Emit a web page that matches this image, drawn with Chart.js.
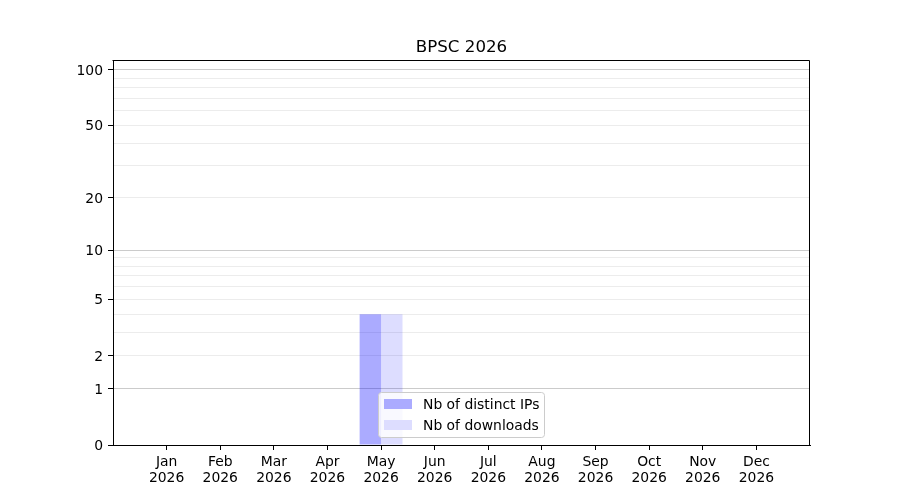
<!DOCTYPE html>
<html>
<head>
<meta charset="utf-8">
<script src="https://cdn.jsdelivr.net/npm/chart.js@4/dist/chart.umd.min.js"></script>
<style>
  html, body { margin: 0; padding: 0; background: #ffffff; }
  #wrap { width: 900px; height: 500px; }
</style>
</head>
<body>
<div id="wrap"><canvas id="c" width="900" height="500"></canvas></div>
<script>
// ---- data ----
const chartTitle = 'BPSC 2026';
const months = ['Jan', 'Feb', 'Mar', 'Apr', 'May', 'Jun', 'Jul', 'Aug', 'Sep', 'Oct', 'Nov', 'Dec'];
const yearLabel = '2026';
const distinctIPs = [0, 0, 0, 0, 4, 0, 0, 0, 0, 0, 0, 0];
const downloads = [0, 0, 0, 0, 4, 0, 0, 0, 0, 0, 0, 0];
const seriesLabels = ['Nb of distinct IPs', 'Nb of downloads'];
const yTickValues = [0, 1, 2, 3, 4, 5, 6, 7, 8, 9, 10, 20, 30, 40, 50, 60, 70, 80, 90, 100];
const yLabelled = [0, 1, 2, 5, 10, 20, 50, 100];
const yMajorGrid = [1, 10, 100];
const yMax = 113;

// ---- log(1+x) scale ----
class Log1pScale extends Chart.LinearScale {
  determineDataLimits() {
    this.min = this.options.min;
    this.max = this.options.max;
  }
  buildTicks() {
    return yTickValues.map(v => ({ value: v }));
  }
  configure() {
    super.configure();
    this._tMin = Math.log10(1 + this.min);
    this._tMax = Math.log10(1 + this.max);
  }
  getPixelForValue(v) {
    return this.getPixelForDecimal((Math.log10(1 + v) - this._tMin) / (this._tMax - this._tMin));
  }
  getValueForPixel(p) {
    const t = this._tMin + this.getDecimalForPixel(p) * (this._tMax - this._tMin);
    return Math.pow(10, t) - 1;
  }
}
Log1pScale.id = 'log1p';
Log1pScale.defaults = Chart.LinearScale.defaults;
Chart.register(Log1pScale);

const FONT = 'DejaVu Sans';

const framePlugin = {
  id: 'frame',
  afterDatasetsDraw(chart) {
    const { ctx, chartArea: a } = chart;
    ctx.save();
    ctx.strokeStyle = '#000';
    ctx.lineWidth = 1;
    ctx.beginPath();
    ctx.moveTo(Math.round(a.left) - 0.5, Math.round(a.top) + 0.5);
    ctx.lineTo(Math.round(a.right) - 0.5, Math.round(a.top) + 0.5);
    ctx.lineTo(Math.round(a.right) - 0.5, Math.round(a.bottom) + 0.5);
    ctx.stroke();
    ctx.restore();
  }
};

const legendPlugin = {
  id: 'mplLegend',
  afterDraw(chart) {
    const ctx = chart.ctx;
    const x0 = 378.5, y0 = 392.5, w = 166, h = 45, r = 3;
    ctx.save();
    ctx.beginPath();
    ctx.moveTo(x0 + r, y0);
    ctx.lineTo(x0 + w - r, y0);
    ctx.arcTo(x0 + w, y0, x0 + w, y0 + r, r);
    ctx.lineTo(x0 + w, y0 + h - r);
    ctx.arcTo(x0 + w, y0 + h, x0 + w - r, y0 + h, r);
    ctx.lineTo(x0 + r, y0 + h);
    ctx.arcTo(x0, y0 + h, x0, y0 + h - r, r);
    ctx.lineTo(x0, y0 + r);
    ctx.arcTo(x0, y0, x0 + r, y0, r);
    ctx.closePath();
    ctx.fillStyle = 'rgba(255,255,255,0.8)';
    ctx.fill();
    ctx.strokeStyle = '#cccccc';
    ctx.lineWidth = 1;
    ctx.stroke();
    ctx.font = '13.9px "' + FONT + '"';
    ctx.textBaseline = 'middle';
    ctx.textAlign = 'left';
    chart.data.datasets.forEach((ds, i) => {
      const ry = 399 + i * 21;
      ctx.fillStyle = '#ffffff';
      ctx.fillRect(384, ry, 28, 10);
      ctx.fillStyle = ds.backgroundColor;
      ctx.fillRect(384, ry, 28, 10);
      ctx.fillStyle = '#000';
      ctx.fillText(ds.label, 423, ry + 6);
    });
    ctx.restore();
  }
};

new Chart(document.getElementById('c'), {
  type: 'bar',
  data: {
    datasets: [
      {
        label: seriesLabels[0],
        data: distinctIPs.map((v, i) => ({ x: i, y: v })),
        backgroundColor: 'rgba(0,0,255,0.33)',
        borderWidth: 0
      },
      {
        label: seriesLabels[1],
        data: downloads.map((v, i) => ({ x: i, y: v })),
        backgroundColor: 'rgba(0,0,255,0.135)',
        borderWidth: 0
      }
    ]
  },
  options: {
    responsive: false,
    animation: false,
    devicePixelRatio: 1,
    categoryPercentage: 0.8,
    barPercentage: 1.0,
    layout: { padding: { left: 0, right: 90, top: 0, bottom: 0 } },
    plugins: {
      legend: { display: false },
      tooltip: { enabled: false },
      title: {
        display: true,
        text: chartTitle,
        fullSize: false,
        color: '#000',
        font: { family: FONT, size: 16.67, weight: 'normal', lineHeight: 1.2 },
        padding: { top: 38, bottom: 2 }
      }
    },
    scales: {
      x: {
        type: 'linear',
        min: -1,
        max: 12,
        offset: false,
        afterBuildTicks(scale) {
          scale.ticks = months.map((m, i) => ({ value: i }));
        },
        afterFit(scale) { scale.height = 55; },
        ticks: {
          autoSkip: false,
          maxRotation: 0,
          padding: 4,
          color: '#000',
          font: { family: FONT, size: 13.9, lineHeight: 1.15 },
          callback: (v) => [months[v], yearLabel]
        },
        grid: {
          offset: false,
          drawOnChartArea: false,
          drawTicks: true,
          tickLength: 5,
          tickColor: '#000'
        },
        border: { display: true, color: '#000', width: 1 }
      },
      y: {
        type: 'log1p',
        min: 0,
        max: yMax,
        afterFit(scale) { scale.width = 113; },
        ticks: {
          autoSkip: false,
          padding: 5,
          labelOffset: 1.5,
          color: '#000',
          font: { family: FONT, size: 13.9 },
          callback: (v) => (yLabelled.includes(v) ? String(v) : '')
        },
        grid: {
          drawTicks: true,
          tickLength: 5,
          color: (c) => {
            const v = c.tick ? c.tick.value : null;
            if (v === 0) return 'rgba(0,0,0,0)';
            return yMajorGrid.includes(v) ? '#cbcbcb' : '#ececec';
          },
          tickColor: (c) => {
            const v = c.tick ? c.tick.value : null;
            return yLabelled.includes(v) ? '#000' : 'rgba(0,0,0,0)';
          }
        },
        border: { display: true, color: '#000', width: 1 }
      }
    }
  },
  plugins: [framePlugin, legendPlugin]
});
</script>
</body>
</html>
